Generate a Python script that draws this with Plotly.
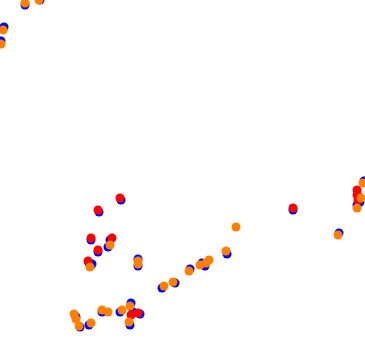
import plotly.graph_objects as go

blue_x = [25, 40, 4, 1, 121, 99, 91, 110, 108, 98, 89, 92, 138, 138,
          76, 80, 89, 102, 120, 131, 133, 140, 130,
          162, 175, 190, 202, 205, 227,
          293, 339, 364, 358, 360, 357]
blue_y = [5, 0, 27, 41, 200, 212, 240, 240, 247, 252, 263, 264, 259, 266,
          317, 327, 325, 312, 312, 303, 312, 314, 325,
          288, 283, 269, 263, 266, 254,
          210, 233, 181, 196, 202, 205]

red_x = [120, 98, 91, 112, 98, 88, 131, 138, 293, 357, 357, 358]
red_y = [198, 210, 238, 238, 250, 261, 315, 313, 208, 190, 195, 200]

orange_x = [25, 39, 3, 1, 110, 90, 138, 138,
            74, 76, 79, 91, 102, 108, 122, 130, 129,
            164, 173, 189, 200, 206, 209, 226, 236,
            338, 363, 361, 357]
orange_y = [3, 0, 30, 44, 245, 267, 261, 264,
            314, 319, 326, 323, 310, 312, 310, 306, 322,
            286, 282, 271, 265, 263, 260, 251, 227,
            235, 183, 198, 208]

fig = go.Figure()
fig.add_trace(go.Scatter(x=blue_x, y=blue_y, mode="markers",
                         marker=dict(color="#0000ff", size=9)))
fig.add_trace(go.Scatter(x=red_x, y=red_y, mode="markers",
                         marker=dict(color="#ff0000", size=9)))
fig.add_trace(go.Scatter(x=orange_x, y=orange_y, mode="markers",
                         marker=dict(color="#ff8000", size=9)))
fig.update_layout(width=365, height=350, margin=dict(l=0, r=0, t=0, b=0),
                  showlegend=False, plot_bgcolor="white", paper_bgcolor="white",
                  xaxis=dict(range=[0, 365], visible=False),
                  yaxis=dict(range=[350, 0], visible=False))
fig.write_html("out.html")
